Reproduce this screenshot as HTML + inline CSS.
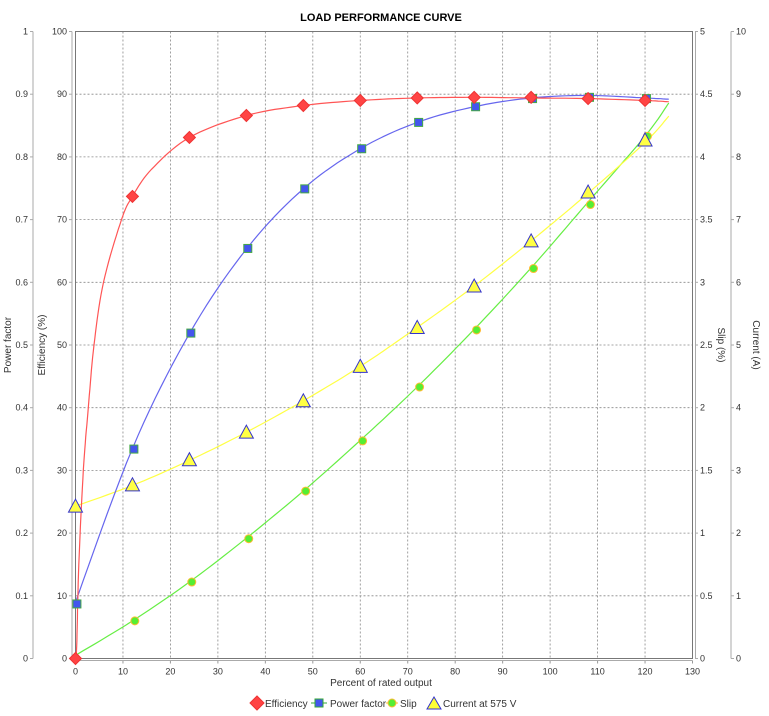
<!DOCTYPE html>
<html><head><meta charset="utf-8"><style>
html,body{margin:0;padding:0;background:#fff;}
svg{display:block;font-family:"Liberation Sans","DejaVu Sans",sans-serif;}
</style></head><body>
<svg id="s" width="769" height="716" xmlns="http://www.w3.org/2000/svg">
<text x="381" y="21" text-anchor="middle" font-size="11" font-weight="bold" fill="#000">LOAD PERFORMANCE CURVE</text>
<text x="381" y="686" text-anchor="middle" font-size="10" fill="#333">Percent of rated output</text>
<text transform="translate(11,345) rotate(-90)" text-anchor="middle" font-size="10" fill="#333">Power factor</text>
<text transform="translate(45,345) rotate(-90)" text-anchor="middle" font-size="10" fill="#333">Efficiency (%)</text>
<text transform="translate(718,345) rotate(90)" text-anchor="middle" font-size="10" fill="#333">Slip (%)</text>
<text transform="translate(753,345) rotate(90)" text-anchor="middle" font-size="10" fill="#333">Current (A)</text>
<g id="g"></g>
<g font-size="10" fill="#333">
<polygon points="250,703 257,696 264,703 257,710" fill="#f44" stroke="#e33"/>
<text x="265" y="707">Efficiency</text>
<line x1="311" y1="703" x2="327" y2="703" stroke="#3a3"/>
<rect x="315" y="699" width="8" height="8" fill="#4455ee" stroke="#3a3"/>
<text x="330" y="707">Power factor</text>
<line x1="386" y1="703" x2="398" y2="703" stroke="#fb3"/>
<circle cx="392" cy="703" r="4" fill="#5e3" stroke="#fb3"/>
<text x="400" y="707">Slip</text>
<polygon points="427,709 434,697 441,709" fill="#ff3" stroke="#33c"/>
<text x="443" y="707">Current at 575 V</text>
</g>
</svg>
<script>
const L=75.5,R=692.5,T=31.5,B=658.5;
const X=v=>L+v*(R-L)/130, Y=v=>B-v*(B-T)/100;
let h='';
for(let i=0;i<=13;i++){const x=X(i*10);
 if(i>0&&i<13)h+=`<line x1="${x}" y1="${T}" x2="${x}" y2="${B}" stroke="#888" stroke-dasharray="2,2" stroke-width="0.8"/>`;
 h+=`<line x1="${x}" y1="${B+2}" x2="${x}" y2="${B+5}" stroke="#999"/><text x="${x}" y="${B+16}" text-anchor="middle" font-size="9" fill="#333">${i*10}</text>`;}
for(let i=0;i<=10;i++){const y=Y(i*10);
 if(i>0&&i<10)h+=`<line x1="${L}" y1="${y}" x2="${R}" y2="${y}" stroke="#888" stroke-dasharray="2,2" stroke-width="0.8"/>`;
 const pf=i==0?'0':i==10?'1':(i/10).toFixed(1);
 const sl=i==0?'0':(i/2).toString();
 h+=`<text x="28" y="${y+3}" text-anchor="end" font-size="9" fill="#333">${pf}</text>`;
 h+=`<text x="67" y="${y+3}" text-anchor="end" font-size="9" fill="#333">${i*10}</text>`;
 h+=`<text x="700" y="${y+3}" font-size="9" fill="#333">${sl}</text>`;
 h+=`<text x="736" y="${y+3}" font-size="9" fill="#333">${i}</text>`;
 h+=`<line x1="30" y1="${y}" x2="33" y2="${y}" stroke="#aaa"/><line x1="69" y1="${y}" x2="72" y2="${y}" stroke="#aaa"/><line x1="695" y1="${y}" x2="698" y2="${y}" stroke="#aaa"/><line x1="731" y1="${y}" x2="734" y2="${y}" stroke="#aaa"/>`;}
h+=`<line x1="33" y1="${T}" x2="33" y2="${B}" stroke="#aaa"/><line x1="72" y1="${T}" x2="72" y2="${B}" stroke="#aaa"/><line x1="695.5" y1="${T}" x2="695.5" y2="${B}" stroke="#aaa"/><line x1="731" y1="${T}" x2="731" y2="${B}" stroke="#aaa"/><line x1="${L}" y1="${B+2}" x2="${R}" y2="${B+2}" stroke="#aaa"/>`;
h+=`<rect x="${L}" y="${T}" width="${R-L}" height="${B-T}" fill="none" stroke="#777"/>`;
function cr(p,col){let d=`M${X(p[0][0])},${Y(p[0][1])}`;
 for(let i=0;i<p.length-1;i++){const p0=p[Math.max(0,i-1)],p1=p[i],p2=p[i+1],p3=p[Math.min(p.length-1,i+2)];
  for(let t=0.1;t<=1.001;t+=0.1){const t2=t*t,t3=t2*t;
   const f=k=>0.5*((2*p1[k])+(-p0[k]+p2[k])*t+(2*p0[k]-5*p1[k]+4*p2[k]-p3[k])*t2+(-p0[k]+3*p1[k]-3*p2[k]+p3[k])*t3);
   d+=`L${X(f(0)).toFixed(1)},${Y(f(1)).toFixed(1)}`;}}
 return `<path d="${d}" fill="none" stroke="${col}" stroke-width="1.2"/>`;}
const eff=[[0,0],[0.25,2],[0.7,15],[1.65,30],[2.7,40],[3.9,50],[5.9,60],[9.7,70],[12,73.7],[16,78],[24,83.1],[36,86.6],[48,88.2],[60,89],[72,89.4],[84,89.5],[96,89.4],[108,89.3],[120,89],[125,88.8]];
const pf=[[0,9],[12,33.5],[24,51.8],[36,65.3],[48,74.9],[60,81.3],[72,85.5],[84,88],[96,89.4],[108,89.8],[120,89.4],[125,89.2]];
const sl=[[0,0.5],[12,6],[24,12.2],[36,19.2],[48,26.7],[60,34.8],[72,43.3],[84,52.5],[96,62.3],[108,72.8],[120,83.3],[125,88.6]];
const cu=[[0,24.3],[12,27.6],[24,31.6],[36,36.1],[48,41.1],[60,46.6],[72,52.8],[84,59.4],[96,66.6],[108,74.2],[120,82.3],[125,86.5]];
h+=cr(sl,'#66ee44')+cr(cu,'#ffff44')+cr(pf,'#6666ee')+cr(eff,'#ff5555');
const em=[[0,0],[12,73.7],[24,83.1],[36,86.6],[48,88.2],[60,89],[72,89.4],[84,89.5],[96,89.5],[108,89.3],[120,89]];
const pm=[[0.3,8.7],[12.3,33.4],[24.3,51.9],[36.3,65.4],[48.3,74.9],[60.3,81.3],[72.3,85.5],[84.3,88],[96.3,89.3],[108.3,89.5],[120.3,89.3]];
const sm=[[12.5,6],[24.5,12.2],[36.5,19.1],[48.5,26.7],[60.5,34.7],[72.5,43.3],[84.5,52.4],[96.5,62.2],[108.5,72.4],[120.5,83.3]];
const cm=[[0,24.3],[12,27.7],[24,31.7],[36,36.1],[48,41.1],[60,46.6],[72,52.8],[84,59.4],[96,66.6],[108,74.4],[120,82.7]];
pm.forEach(p=>{h+=`<rect x="${X(p[0])-4}" y="${Y(p[1])-4}" width="8" height="8" fill="#4455ee" stroke="#4a4"/>`;});
sm.forEach(p=>{h+=`<circle cx="${X(p[0])}" cy="${Y(p[1])}" r="4" fill="#5e3" stroke="#fb3"/>`;});
cm.forEach(p=>{const x=X(p[0]),y=Y(p[1]);h+=`<polygon points="${x-7},${y+6} ${x},${y-7} ${x+7},${y+6}" fill="#ff4" stroke="#33c"/>`;});
em.forEach(p=>{const x=X(p[0]),y=Y(p[1]);h+=`<polygon points="${x-6},${y} ${x},${y-6} ${x+6},${y} ${x},${y+6}" fill="#f44" stroke="#e33"/>`;});
document.getElementById('g').innerHTML=h;
</script>
</body></html>
